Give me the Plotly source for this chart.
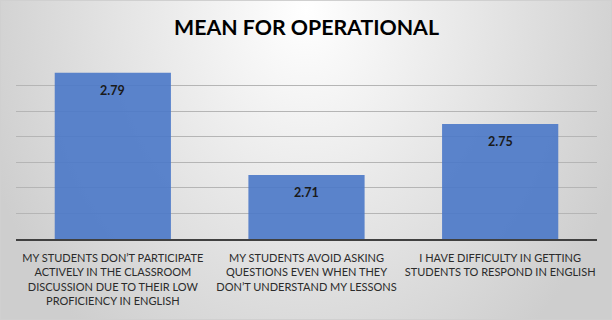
import base64
import plotly.graph_objects as go

categories = [
    "MY STUDENTS DON\u2019T PARTICIPATE<br>ACTIVELY IN THE CLASSROOM<br>DISCUSSION DUE TO THEIR LOW<br>PROFICIENCY IN ENGLISH",
    "MY STUDENTS AVOID ASKING<br>QUESTIONS EVEN WHEN THEY<br>DON\u2019T UNDERSTAND MY LESSONS",
    "I HAVE DIFFICULTY IN GETTING<br>STUDENTS TO RESPOND IN ENGLISH",
]
means = [2.79, 2.71, 2.75]
title_text = "MEAN FOR OPERATIONAL"

W, H = 612, 320
ML, MR, MT, MB = 16, 15, 60, 81
PW, PH = W - ML - MR, H - MT - MB

svg = f'''<svg xmlns="http://www.w3.org/2000/svg" width="{W}" height="{H}" viewBox="0 0 {W} {H}" preserveAspectRatio="none">
<defs><radialGradient id="g" gradientUnits="userSpaceOnUse" cx="306" cy="10" r="340"
 gradientTransform="translate(306 10) scale(1 1.24) translate(-306 -10)">
<stop offset="0" stop-color="#ffffff"/><stop offset="1" stop-color="#cecece"/></radialGradient></defs>
<rect width="{W}" height="{H}" fill="url(#g)"/>
<rect x="0.5" y="0.5" width="{W-1}" height="{H-1}" fill="none" stroke="#d0d0d0" stroke-width="1"/>
</svg>'''
src = "data:image/svg+xml;base64," + base64.b64encode(svg.encode()).decode()

fig = go.Figure()
fig.add_trace(go.Bar(
    x=list(range(len(categories))), y=means,
    marker=dict(color="#4a78c8", opacity=0.9, line=dict(width=0)),
    hoverinfo="skip",
))
for i, v in enumerate(means):
    fig.add_annotation(x=i, y=v, text=f"{v:.2f}", showarrow=False,
                       yanchor="top", yshift=-8,
                       font=dict(family="Lato", size=12.5, color="#1a1a1a", weight="bold"))

fig.update_layout(
    width=W, height=H,
    margin=dict(l=ML, r=MR, t=MT, b=MB),
    paper_bgcolor="#d8d8d8",
    plot_bgcolor="rgba(0,0,0,0)",
    showlegend=False,
    bargap=0.4,
    title=dict(text=title_text, x=0.5, xanchor="center", xref="paper",
               y=1 - 28 / H, yref="container", yanchor="middle",
               font=dict(family="Lato", size=21.3, color="#000000", weight="bold")),
    images=[dict(source=src, xref="paper", yref="paper",
                 x=-ML / PW, y=1 + MT / PH, sizex=W / PW, sizey=H / PH,
                 xanchor="left", yanchor="top", sizing="stretch", layer="below")],
    xaxis=dict(tickmode="array", tickvals=list(range(len(categories))), ticktext=categories,
               range=[-0.5, 2.5], showline=True, linecolor="#404040", linewidth=1.5,
               showgrid=False, ticks="", ticklabelstandoff=8,
               tickfont=dict(family="Lato", size=11, color="#2b2b2b"),
               fixedrange=True),
    yaxis=dict(range=[2.66, 2.80], dtick=0.02, tick0=2.66, showticklabels=False,
               showgrid=True, gridcolor="#b5b5b5", gridwidth=1, zeroline=False,
               ticks="", fixedrange=True),
)
fig.write_html("out.html")
